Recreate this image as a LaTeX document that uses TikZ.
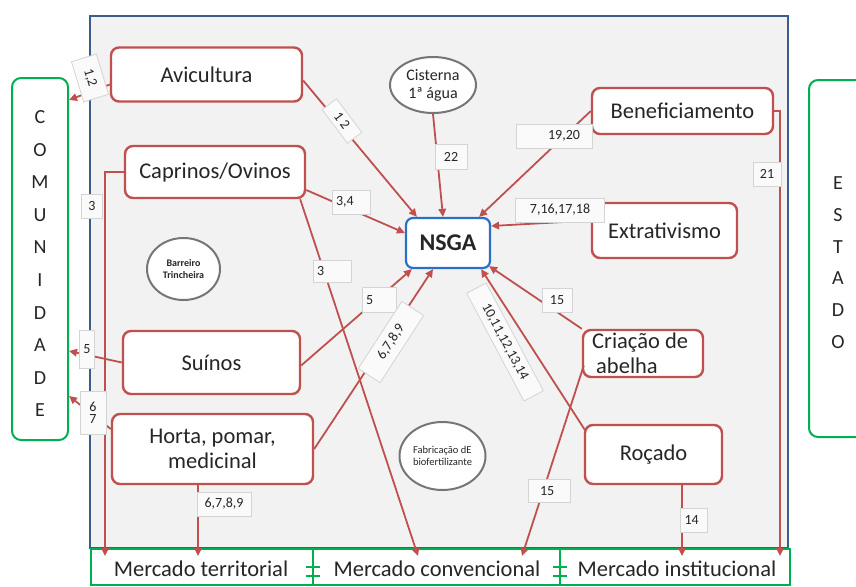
\documentclass[tikz,border=0pt]{standalone}
\usepackage{fontspec}
\setmainfont{Carlito}
\usetikzlibrary{arrows.meta,shapes.geometric,calc}
\definecolor{rd}{RGB}{192,80,77}
\definecolor{nb}{RGB}{40,112,200}
\definecolor{fb}{RGB}{60,92,140}
\definecolor{gn}{RGB}{0,176,80}
\definecolor{bg}{RGB}{242,242,242}
\definecolor{lbd}{RGB}{212,212,212}
\definecolor{tx}{RGB}{38,38,38}
\definecolor{eg}{RGB}{118,118,118}
\begin{document}
\begin{tikzpicture}[x=1pt,y=-1pt,
 proc/.style={draw=rd,line width=2.4pt,rounded corners=8pt,fill=white,text=tx,font=\fontsize{22.5}{25}\selectfont,inner sep=2pt},
 conn/.style={draw=rd,line width=1.8pt,-{Triangle[length=8pt,width=7.5pt]}},
 lab/.style={draw=lbd,fill=bg!40!white,line width=0.8pt,text=tx,font=\fontsize{14}{12}\selectfont,inner sep=2pt},
 oval/.style={ellipse,draw=eg,line width=2pt,fill=white,text=tx,inner sep=0pt},
 side/.style={draw=gn,line width=2pt,rounded corners=9pt,fill=white,inner sep=0pt},
 letter/.style={text=tx,font=\fontsize{20}{22}\selectfont,inner sep=0pt},
 mkt/.style={text=tx,font=\fontsize{22.5}{24}\selectfont,inner sep=0pt}
]
\useasboundingbox (0,0) rectangle (856,586);
% main frame
\draw[fb,line width=2.5pt,fill=bg] (90,16) rectangle (788,548);
% bottom strip
\draw[gn,line width=2pt,fill=white] (91,549) rectangle (790,585);
\foreach \xx in {313,560}{
  \draw[gn,line width=2pt] (\xx,549) -- (\xx,586);
  \draw[gn,line width=2pt] (\xx-7,567) -- (\xx+7,567);
  \draw[gn,line width=2pt] (\xx-7,576) -- (\xx+7,576);
}
\node[mkt] (mt) at (201,569) {Mercado territorial};
\node[mkt] (mc) at (437,569) {Mercado convencional};
\node[mkt] (mi) at (677,569) {Mercado institucional};
% side boxes
\node[side,minimum width=56,minimum height=362] (com) at (40,259) {};
\foreach \l [count=\i] in {C,O,M,U,N,I,D,A,D,E}
  \node[letter] (c\i) at (40,{117+(\i-1)*32.6}) {\l};
\begin{scope}
\clip (0,0) rectangle (856,586);
\node[side,minimum width=60,minimum height=357] (est) at (839,258.5) {};
\end{scope}
\foreach \l [count=\i] in {E,S,T,A,D,O}
  \node[letter] (e\i) at (838,{183+(\i-1)*31.8}) {\l};
% process nodes
\node[proc,minimum width=191,minimum height=54] (av) at (206.5,74.5) {Avicultura};
\node[proc,minimum width=180,minimum height=52] (cap) at (215,172) {Caprinos/Ovinos};
\node[proc,minimum width=177,minimum height=63] (sui) at (211.5,362.5) {Suínos};
\node[proc,minimum width=201,minimum height=70,align=center] (hor) at (212.5,449) {Horta, pomar,\\medicinal};
\node[proc,minimum width=181,minimum height=46] (ben) at (682.5,111) {Beneficiamento};
\node[proc,minimum width=145,minimum height=55] (ext) at (664.5,230.5) {Extrativismo};
\node[proc,minimum width=120,minimum height=47] (abe) at (643,353.5) {};
\node[anchor=base west,align=left,inner sep=0pt,text=tx,font=\fontsize{22.5}{25}\selectfont] (abet) at (592,373) {Criação de\\\hspace*{4pt}abelha};
\node[proc,minimum width=137,minimum height=59] (roc) at (653.5,454.5) {Roçado};
\node[draw=nb,line width=2.2pt,rounded corners=7pt,fill=white,minimum width=84,minimum height=50,font=\fontsize{24}{26}\selectfont\bfseries,text=black!85] (nsga) at (448,243) {NSGA};
% ellipses
\node[oval,minimum width=86,minimum height=56,font=\fontsize{16}{18}\selectfont,align=center] (cis) at (433,85) {Cisterna\\1ª água};
\node[oval,minimum width=73,minimum height=62,font=\fontsize{10}{12}\selectfont\bfseries,align=center] (bar) at (183.5,269) {Barreiro\\Trincheira};
\node[oval,minimum width=86,minimum height=68,font=\fontsize{10.5}{12}\selectfont,align=left] (fab) at (442.5,456) {Fabricação dE\\biofertilizante};
% free ends in the market strip
\coordinate (t1) at (105,556);
\coordinate (t2) at (198,556);
\coordinate (c1) at (418,556);
\coordinate (c2) at (522,556);
\coordinate (i1) at (682,556);
\coordinate (i2) at (780,556);
% connectors to NSGA
\draw[conn] ($(av.east)+(0,6)$) -- ($(nsga.north west)+(12,0)$);
\draw[conn] ($(cap.east)+(0,18)$) -- ($(nsga.west)+(0,-10)$);
\draw[conn] (cis.south) -- ($(nsga.north)+(-5,0)$);
\draw[conn] (ben.west) -- ($(nsga.north east)+(-12,0)$);
\draw[conn] ($(ext.west)+(0,-10)$) -- ($(nsga.east)+(0,-17)$);
\draw[conn] (abe.north west) -- ($(nsga.south east)+(-2,-3)$);
\draw[conn] ($(roc.north west)+(1,6)$) -- ($(nsga.south east)+(-10,0)$);
\draw[conn] ($(sui.east)+(0,3)$) -- ($(nsga.south west)+(7,0)$);
\draw[conn] (hor.east) -- ($(nsga.south)+(-15,0)$);
% connectors to COMUNIDADE
\draw[conn] ($(av.west)+(0,10)$) -- ($(com.north east)+(0,23)$);
\draw[conn] (sui.west) -- ($(com.north east)+(0,274)$);
\draw[conn] ($(hor.west)+(0,-20)$) -- ($(com.north east)+(0,319)$);
% connectors to markets
\draw[conn] (cap.west) -| (t1);
\draw[conn] (t2 |- hor.south) -- (t2);
\draw[conn] ($(cap.south east)+(-6,0)$) -- (c1);
\draw[conn] ($(abe.west)+(2,12)$) -- (c2);
\draw[conn] (i1 |- roc.south) -- (i1);
\draw[conn] (ben.east) -| (i2);
% labels
\node[lab,rotate=-53,minimum width=42,minimum height=18] (l12a) at (342,121) {1 2};
\node[lab,rotate=-73,minimum width=42,minimum height=26] (l12b) at (90,78) {1,2};
\node[lab,minimum width=21,minimum height=24] (l3a) at (92,206) {3};
\node[lab,minimum height=24,text width=30,inner xsep=4pt,align=left] (l34) at (351,202) {3,4};
\node[lab,minimum height=22,text width=30,inner xsep=4pt,align=left] (l3b) at (332,271) {3};
\node[lab,minimum height=25,text width=26,inner xsep=4pt,align=left] (l5a) at (379,300) {5};
\node[lab,minimum width=15,minimum height=38] (l5b) at (87,349) {5};
\node[lab,minimum width=26,minimum height=43,align=center] (l67) at (93,413) {6\\7};
\node[lab,rotate=57,minimum width=80,minimum height=26] (l6789a) at (391,342) {6,7,8,9};
\node[lab,minimum width=54,minimum height=24] (l6789b) at (224,504) {6,7,8,9};
\node[lab,minimum width=32,minimum height=25] (l22) at (451,157) {22};
\node[lab,minimum height=24,text width=68,inner xsep=4pt,align=right] (l1920) at (554,136) {19,20\hspace*{8pt}};
\node[lab,minimum width=28,minimum height=24] (l21) at (767,174) {21};
\node[lab,minimum width=89,minimum height=24] (l7) at (560,210) {7,16,17,18};
\node[lab,minimum width=30,minimum height=24] (l15a) at (557,300) {15};
\node[lab,rotate=-62,minimum width=122,minimum height=22] (l10) at (505,342) {10,11,12,13,14};
\node[lab,minimum height=23,text width=34,inner xsep=4pt,align=left] (l15b) at (549,491) {\hspace*{8pt}15};
\node[lab,minimum height=24,text width=19,inner xsep=4pt,align=left] (l14) at (694,520) {14};
\end{tikzpicture}
\end{document}
